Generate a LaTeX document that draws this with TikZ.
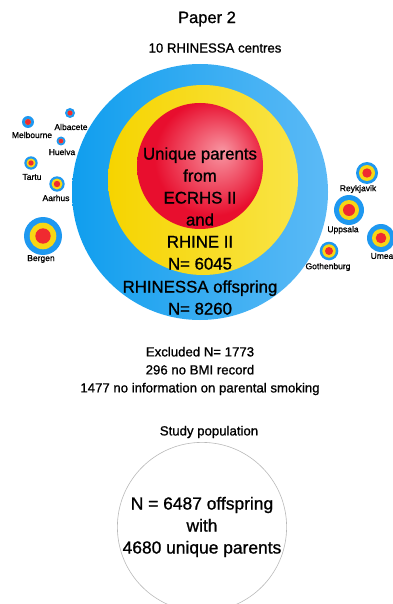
\documentclass[tikz,border=0pt]{standalone}
\usepackage{fontspec}
\setmainfont{Liberation Sans}[FakeBold=1]

\definecolor{ringblue}{RGB}{16,158,238}
\definecolor{ringbluelight}{RGB}{92,186,246}
\definecolor{ringyellow}{RGB}{246,212,0}
\definecolor{ringyellowlight}{RGB}{249,228,70}
\definecolor{ringred}{RGB}{232,14,46}
\definecolor{ringredlight}{RGB}{248,150,162}
\definecolor{dotblue}{RGB}{30,152,240}
\definecolor{dotyellow}{RGB}{248,214,20}
\definecolor{dotred}{RGB}{240,42,48}
\pgfdeclareradialshading{redglow}{\pgfpoint{9bp}{6bp}}{color(0bp)=(ringredlight); color(23bp)=(ringred); color(50bp)=(ringred)}

\begin{document}
\begin{tikzpicture}[x=1pt, y=-1pt,
    every node/.style={inner sep=0pt, align=center},
    heading/.style={font=\fontsize{16.5}{20}\selectfont},
    subheading/.style={font=\fontsize{13.2}{18}\selectfont},
    ringtext/.style={font=\fontsize{16.8}{22}\selectfont},
    citytext/.style={font=\fontsize{8.5}{10}\selectfont},
    studycircle/.style={circle, draw=gray!55, line width=0.6pt, minimum size=168pt,
        font=\fontsize{17.4}{22}\selectfont}]
    \useasboundingbox (0,0) rectangle (392,604);

    % titles
    \node[heading] (paper) at (207,19) {Paper 2};
    \node[subheading] (centres) at (215,48) {10 RHINESSA centres};

    % big rings
    \shade[left color=ringblue, right color=ringbluelight] (200,192) circle (128pt);
    \shade[left color=ringyellow, right color=ringyellowlight] (203,180) circle (95pt);
    \shade[shading=redglow] (200,166) circle (63pt);
    \node[ringtext] (parents) at (200,231)
        {Unique parents\\from\\ECRHS II\\and\\RHINE II\\N= 6045\\[1pt]RHINESSA offspring\\N= 8260};

    % centres: name/x/y/blue/yellow/red/label x/label y
    \foreach \name/\cx/\cy/\rb/\ry/\rr/\lx/\ly in {
        Melbourne/28/122/6/3/3/32/135,
        Albacete/70/113/5/2.5/2.5/71/127,
        Huelva/61/141/4.5/2.3/2.3/62/152,
        Tartu/31/163/6.7/4.5/2.7/32/177,
        Aarhus/57/184/7.7/5.5/3.2/56/198,
        Bergen/43/236/19/13.3/7.7/41/259,
        Reykjavik/367/173/11/8/4.7/358/189,
        Uppsala/349/210/15/10/6/343/230,
        Umea/381/238/14/9/5.3/382/256,
        Gothenburg/329/251/9.3/6.7/4/328/267}
    {
        \fill[dotblue] (\cx,\cy) circle (\rb pt);
        \fill[dotyellow] (\cx,\cy) circle (\ry pt);
        \fill[dotred] (\cx,\cy) circle (\rr pt);
        \node[citytext] (lbl-\name) at (\lx,\ly) {\name};
    }

    % exclusions
    \node[subheading] (excluded) at (200,371)
        {Excluded N= 1773\\296 no BMI record\\1477 no information on parental smoking};

    % study population
    \node[subheading] (studylabel) at (209,432) {Study population};
    \node[studycircle] (study) at (202,527) {N = 6487 offspring\\with\\4680 unique parents};
\end{tikzpicture}
\end{document}
